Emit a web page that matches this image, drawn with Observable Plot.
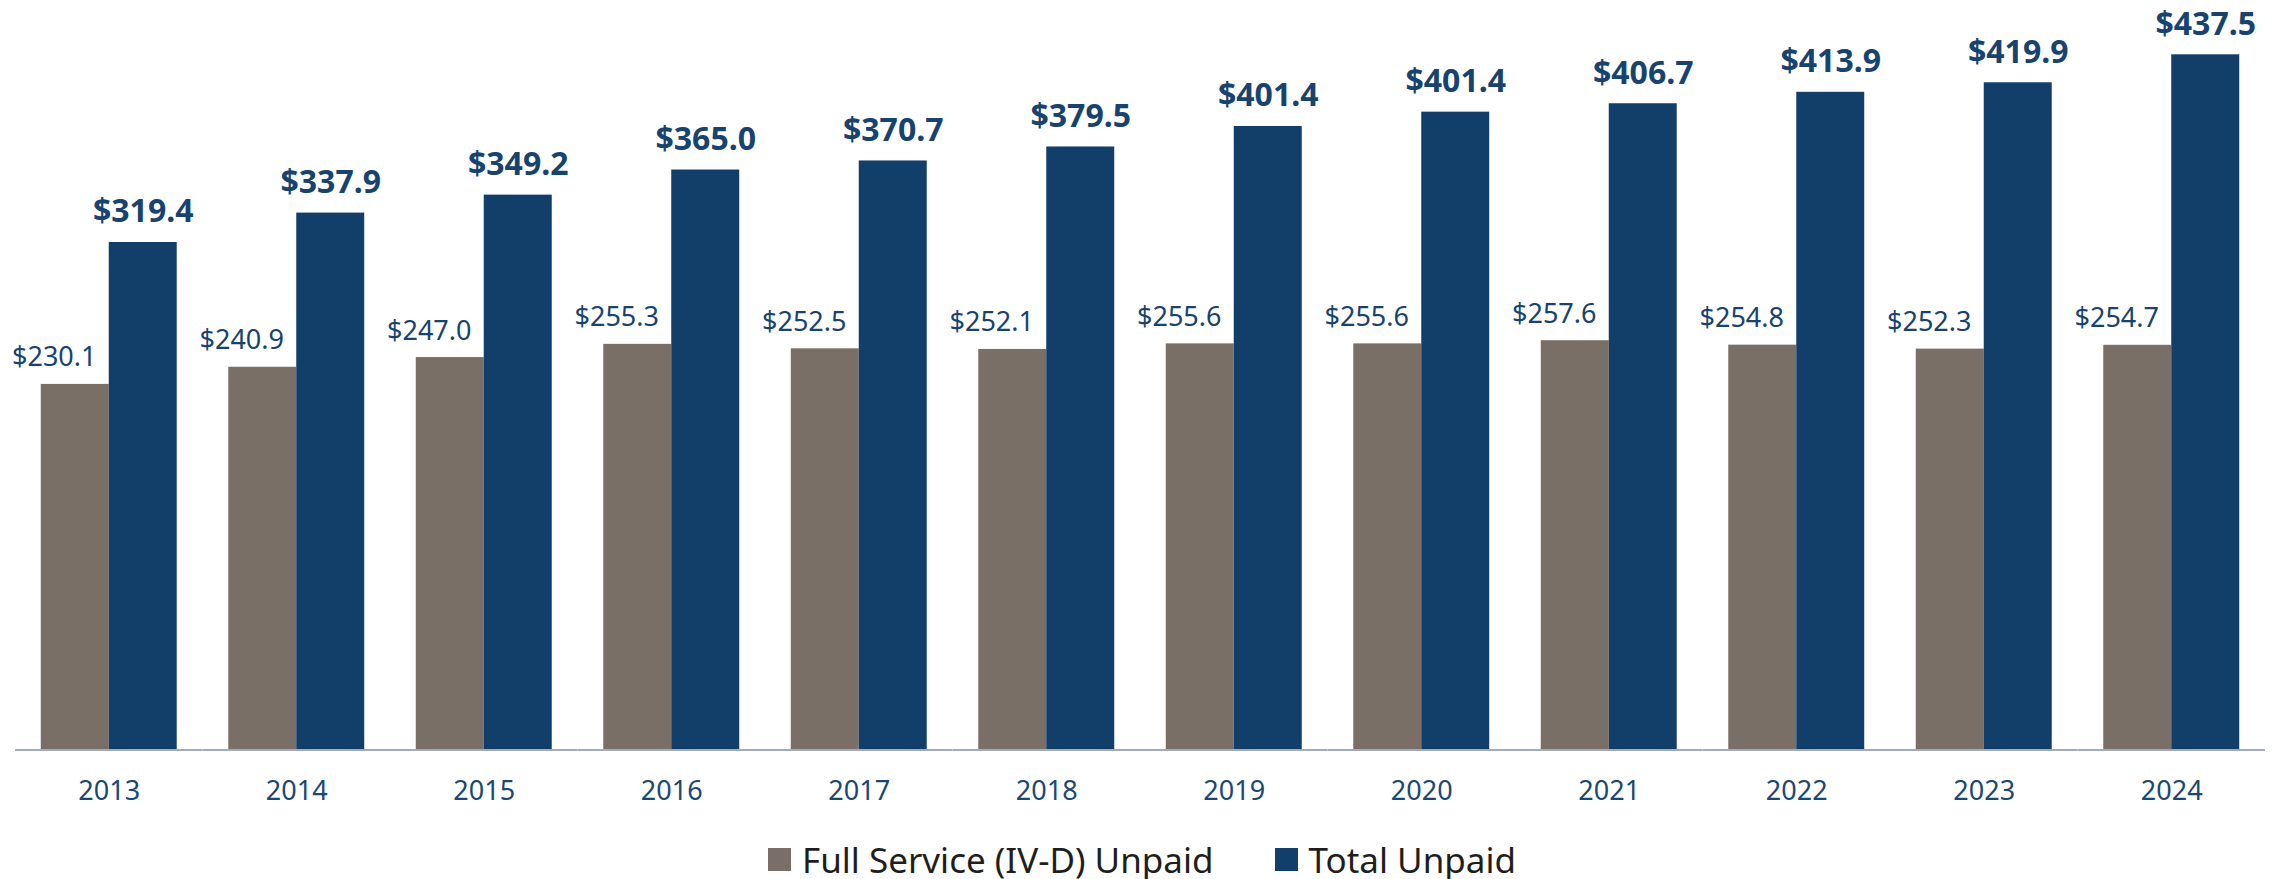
<!DOCTYPE html>
<html>
<head>
<meta charset="utf-8">
<script src="https://cdn.jsdelivr.net/npm/d3@7"></script>
<script src="https://cdn.jsdelivr.net/npm/@observablehq/plot@0.6"></script>
<style>
  html, body { margin: 0; padding: 0; background: #ffffff; }
  #wrap { position: relative; width: 2284px; height: 879px; font-family: "Noto Sans", sans-serif; }
  #legend { position: absolute; left: 0; top: 834px; width: 2284px; height: 50px;
            display: flex; justify-content: center; align-items: center;
            font-family: "Noto Sans", sans-serif; font-size: 35px; color: #1e1e1e; }
  .item { display: flex; align-items: center; }
  .sw { width: 23px; height: 23px; margin-right: 11px; }
  .gap { width: 61px; }
</style>
</head>
<body>
<div id="wrap">
  <div id="chart"></div>
  <div id="legend"></div>
</div>
<script>
const years = ["2013","2014","2015","2016","2017","2018","2019","2020","2021","2022","2023","2024"];
const seriesNames = ["Full Service (IV-D) Unpaid", "Total Unpaid"];
const seriesColors = ["#7a6f66", "#123f69"];
// bar heights
const fullServiceValues = [230.1, 240.9, 247.0, 255.3, 252.5, 252.1, 255.6, 255.6, 257.6, 254.8, 252.3, 254.7];
const totalValues = [319.4, 337.9, 349.2, 365.0, 370.7, 379.5, 392.4, 401.4, 406.7, 413.9, 419.9, 437.5];
// data labels as printed on the chart
const fullServiceLabels = ["$230.1","$240.9","$247.0","$255.3","$252.5","$252.1","$255.6","$255.6","$257.6","$254.8","$252.3","$254.7"];
const totalLabels = ["$319.4","$337.9","$349.2","$365.0","$370.7","$379.5","$401.4","$401.4","$406.7","$413.9","$419.9","$437.5"];

const fullRows = years.map((y, i) => ({year: y, series: seriesNames[0], value: fullServiceValues[i], label: fullServiceLabels[i]}));
const totalRows = years.map((y, i) => ({year: y, series: seriesNames[1], value: totalValues[i], label: totalLabels[i]}));
const rows = fullRows.concat(totalRows);

const labelBlue = "#17436e";

const chart = Plot.plot({
  width: 2284,
  height: 810,
  marginTop: 54.3,
  marginBottom: 60.4,
  marginLeft: 15,
  marginRight: 19,
  style: {fontFamily: "Noto Sans, sans-serif", background: "#ffffff"},
  fx: {domain: years, padding: 0, round: false, label: null, tickSize: 0, tickPadding: 31, fontSize: 27},
  x: {domain: seriesNames, paddingInner: 0, paddingOuter: 0.379, round: false, axis: null},
  y: {domain: [0, 437.5], axis: null},
  color: {domain: seriesNames, range: seriesColors},
  marks: [
    Plot.barY(rows, {fx: "year", x: "series", y: "value", fill: "series"}),
    Plot.ruleY([0], {stroke: "#a3abba", strokeWidth: 2}),
    Plot.text(fullRows, {fx: "year", x: "series", y: "value", text: "label", lineAnchor: "bottom",
      dx: -21, dy: -18, fontSize: 27, fill: labelBlue}),
    Plot.text(totalRows, {fx: "year", x: "series", y: "value", text: "label", lineAnchor: "bottom",
      dy: -20, fontSize: 32, fontWeight: "bold", fill: labelBlue})
  ]
});
d3.select(chart).select("g[aria-label='fx-axis tick label']").attr("fill", "#1b4872").attr("font-size", 27);
document.getElementById("chart").appendChild(chart);

const legend = document.getElementById("legend");
seriesNames.forEach((name, i) => {
  if (i > 0) { const g = document.createElement("div"); g.className = "gap"; legend.appendChild(g); }
  const item = document.createElement("div"); item.className = "item";
  const sw = document.createElement("div"); sw.className = "sw"; sw.style.background = seriesColors[i];
  const tx = document.createElement("span"); tx.textContent = name;
  item.appendChild(sw); item.appendChild(tx);
  legend.appendChild(item);
});
</script>
</body>
</html>
